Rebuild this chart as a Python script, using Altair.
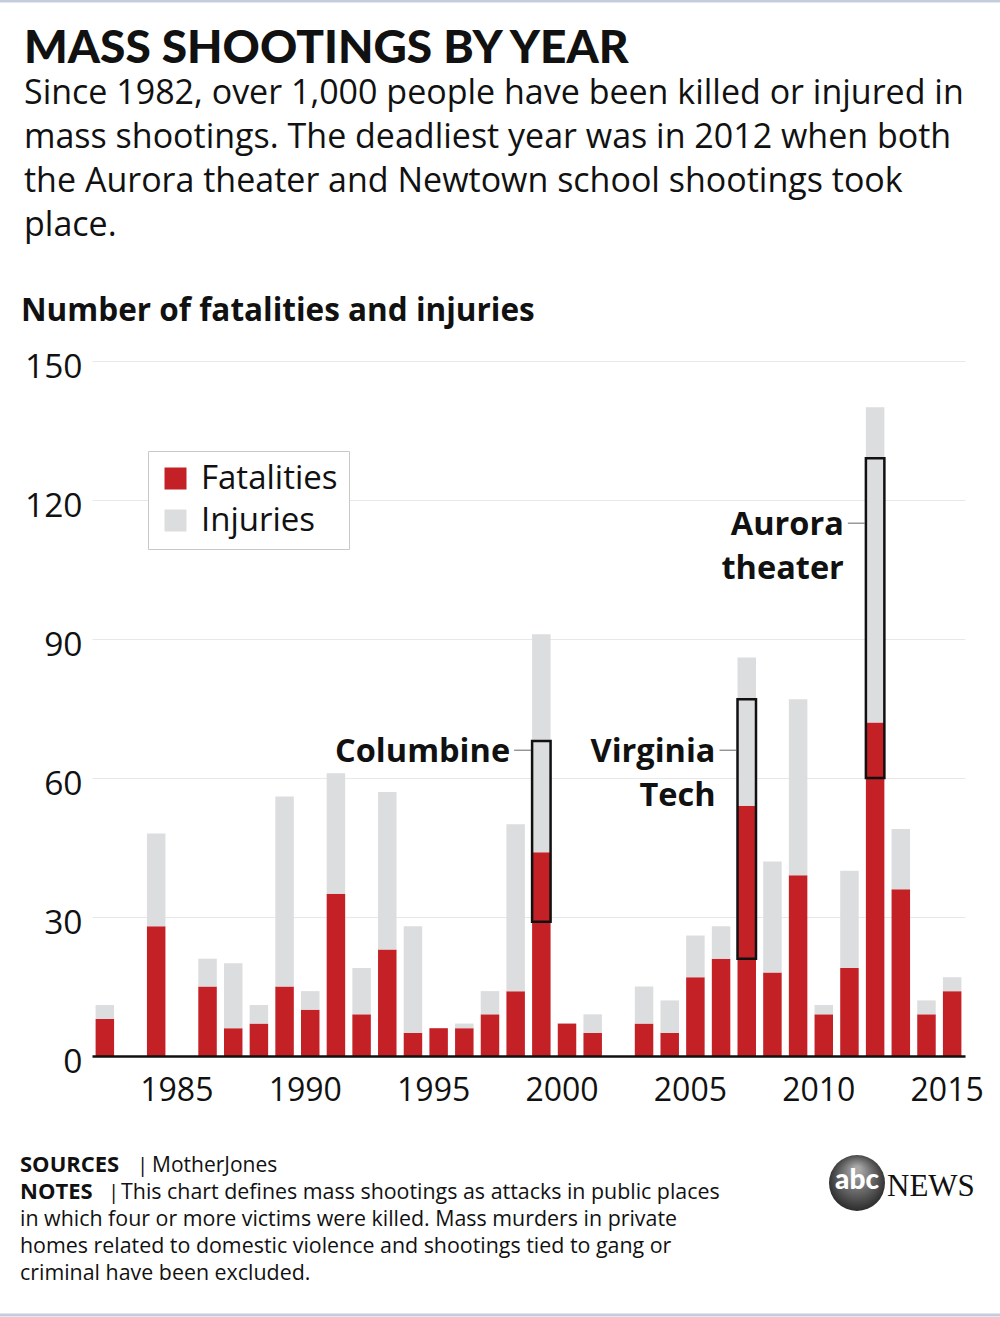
import altair as alt
import pandas as pd

FONT = "Open Sans"
TITLE_FONT = "Lato"
RED = "#c42127"
GREY = "#dcdddf"

# Yearly totals (Mother Jones mass shootings database)
years = [1982, 1983, 1984, 1985, 1986, 1987, 1988, 1989, 1990, 1991, 1992,
         1993, 1994, 1995, 1996, 1997, 1998, 1999, 2000, 2001, 2002, 2003,
         2004, 2005, 2006, 2007, 2008, 2009, 2010, 2011, 2012, 2013, 2014, 2015]
fatalities = [8, 0, 28, 0, 15, 6, 7, 15, 10, 35, 9,
              23, 5, 6, 6, 9, 14, 44, 7, 5, 0, 7,
              5, 17, 21, 54, 18, 39, 9, 19, 72, 36, 9, 14]
injuries = [3, 0, 20, 0, 6, 14, 4, 41, 4, 26, 10,
            34, 23, 0, 1, 5, 36, 47, 0, 4, 0, 8,
            7, 9, 7, 32, 24, 38, 2, 21, 68, 13, 3, 3]

# Single incidents highlighted inside their year's bar
event_years = [1999, 2007, 2012]
event_fatalities = [15, 33, 12]
event_injuries = [24, 23, 57]
event_line1 = ["Columbine", "Virginia", "Aurora"]
event_line2 = ["", "Tech", "theater"]
event_label_at = [66, 66, 115]

x_ticks = [1985, 1990, 1995, 2000, 2005, 2010, 2015]
y_ticks = [0, 30, 60, 90, 120, 150]

title_text = "MASS SHOOTINGS BY YEAR"
subtitle_lines = [
    "Since 1982, over 1,000 people have been killed or injured in",
    "mass shootings. The deadliest year was in 2012 when both",
    "the Aurora theater and Newtown school shootings took",
    "place.",
]
axis_title = "Number of fatalities and injuries"
notes_lines = [
    "This chart defines mass shootings as attacks in public places",
    "in which four or more victims were killed. Mass murders in private",
    "homes related to domestic violence and shootings tied to gang or",
    "criminal have been excluded.",
]

# ---- tables -------------------------------------------------------------
wide = pd.DataFrame({"year": years, "Fatalities": fatalities, "Injuries": injuries})
long = wide.melt(id_vars="year", var_name="kind", value_name="count")
long = long[long["count"] > 0]
long["ord"] = (long["kind"] == "Injuries").astype(int)

fat_by_year = dict(zip(years, fatalities))
events = pd.DataFrame({
    "year": event_years,
    "ef": event_fatalities,
    "ei": event_injuries,
    "line1": event_line1,
    "line2": event_line2,
    "at": event_label_at,
})
events["lo"] = events["year"].map(fat_by_year) - events["ef"]
events["hi"] = events["lo"] + events["ef"] + events["ei"]

W, H = 873, 695
PAD_L, PAD_T = 92, 361

x_scale = alt.Scale(domain=years, paddingInner=0.28, paddingOuter=0.14)
y_scale = alt.Scale(domain=[0, 150])
x_axis = alt.Axis(values=x_ticks, labelAngle=0, labelFontSize=32, labelFont=FONT,
                  labelColor="#111", labelPadding=19, labelOffset=-5, ticks=False, domain=True,
                  domainColor="#111", domainWidth=2.5, grid=False, zindex=2, title=None)
y_axis = alt.Axis(values=y_ticks, labelFontSize=33.5, labelFont=FONT, labelColor="#111",
                  labelPadding=10, labelOffset=6, ticks=False, domain=False, grid=True,
                  gridColor="#e8e8e8", gridWidth=1, title=None)


def xenc(band=0.5):
    return alt.X("year:O", scale=x_scale, axis=x_axis, bandPosition=band, title=None)


def yenc(field):
    return alt.Y(field, scale=y_scale, axis=y_axis, title=None)


bars = alt.Chart(long).mark_bar().encode(
    x=xenc(),
    y=alt.Y("count:Q", stack="zero", scale=y_scale, axis=y_axis, title=None),
    color=alt.Color(
        "kind:N",
        scale=alt.Scale(domain=["Fatalities", "Injuries"], range=[RED, GREY]),
        legend=alt.Legend(
            orient="none", legendX=56, legendY=90, title=None,
            symbolType="square", symbolSize=484, symbolStrokeWidth=0,
            labelFontSize=33, labelFont=FONT, labelColor="#111", labelOffset=9,
            rowPadding=8, padding=11, strokeColor="#c8c8c8", fillColor="white",
        ),
    ),
    order=alt.Order("ord:Q"),
)

boxes = alt.Chart(events).mark_bar(fillOpacity=0, stroke="#111", strokeWidth=2.5).encode(
    x=xenc(), y=yenc("lo:Q"), y2="hi:Q",
)

connectors = alt.Chart(events).mark_rule(color="#666", strokeWidth=1, xOffset=-18, x2Offset=-1).encode(
    x=xenc(0), x2=alt.X2("year:O", bandPosition=0), y=yenc("at:Q"),
)

ann_style = dict(align="right", baseline="middle", fontSize=32.5, fontWeight=700,
                 font=FONT, color="#111", dx=-22)
ann1 = alt.Chart(events).mark_text(dy=2, **ann_style).encode(
    x=xenc(0), y=yenc("at:Q"), text="line1:N")
ann2 = alt.Chart(events).mark_text(dy=46, **ann_style).encode(
    x=xenc(0), y=yenc("at:Q"), text="line2:N")


def label(txt, x, y, size, weight="normal", color="#111", font=FONT, align="left"):
    return alt.Chart(pd.DataFrame({"t": [txt]})).mark_text(
        align=align, baseline="alphabetic", fontSize=size, fontWeight=weight,
        font=font, color=color,
    ).encode(x=alt.value(x - PAD_L), y=alt.value(y - PAD_T), text="t:N")


texts = [label(title_text, 24, 63, 46, weight=900, font=TITLE_FONT)]
for i, line in enumerate(subtitle_lines):
    texts.append(label(line, 24, 104 + 44 * i, 34))
texts.append(label(axis_title, 21, 321, 31.5, weight=700))
texts.append(label("SOURCES", 20, 1172, 22, weight=700))
texts.append(label("|", 137, 1172, 20.5))
texts.append(label("MotherJones", 152, 1172, 21))
texts.append(label("NOTES", 20, 1199, 22, weight=700))
texts.append(label("|", 108, 1199, 20.5))
for i, line in enumerate(notes_lines):
    texts.append(label(line, 121 if i == 0 else 20, 1199 + 27 * i, 21.4))

# ABC News mark
logo_circle = alt.Chart(pd.DataFrame({"t": [0]})).mark_circle(
    size=3136, opacity=1,
    color=alt.RadialGradient(
        gradient="radial", x1=0.5, y1=0.25, r1=0.05, x2=0.5, y2=0.5, r2=0.6,
        stops=[alt.GradientStop(color="#a8a8a8", offset=0),
               alt.GradientStop(color="#1a1a1a", offset=1)],
    ),
).encode(x=alt.value(857 - PAD_L), y=alt.value(1183 - PAD_T))
logo_abc = alt.Chart(pd.DataFrame({"t": ["abc"]})).mark_text(
    align="center", baseline="middle", fontSize=28, fontWeight=900, font=TITLE_FONT, color="white",
).encode(x=alt.value(857 - PAD_L), y=alt.value(1181 - PAD_T), text="t:N")
logo_news = label("NEWS", 887, 1196, 31, font="Liberation Serif")

# thin page rules top and bottom
frame = alt.Chart(pd.DataFrame({"y": [1 - PAD_T, 1315 - PAD_T]})).mark_rule(
    color="#c5cddd", strokeWidth=3,
).encode(x=alt.value(-PAD_L), x2=alt.value(1000 - PAD_L), y=alt.Y("y:Q", scale=None))

chart = alt.layer(
    bars, boxes, connectors, ann1, ann2, *texts, logo_circle, logo_abc, logo_news, frame
).properties(
    width=W, height=H,
    padding={"left": PAD_L, "top": PAD_T, "right": 1000 - PAD_L - W, "bottom": 1317 - PAD_T - H},
    autosize=alt.AutoSizeParams(type="none"),
).configure(background="white").configure_view(stroke=None)

chart.save("out.html", embed_options={"renderer": "svg", "actions": False})
